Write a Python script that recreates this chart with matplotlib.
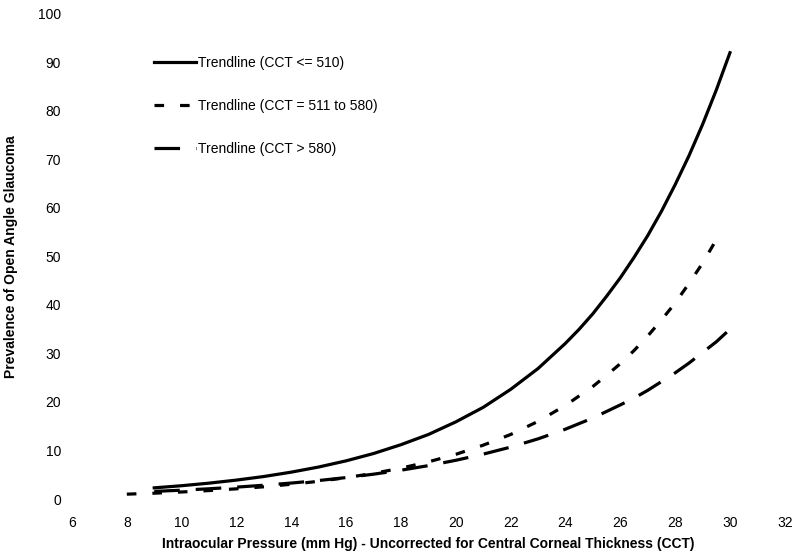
import matplotlib
matplotlib.use("Agg")
import matplotlib.pyplot as plt

plt.rcParams["font.family"] = ["Liberation Sans", "DejaVu Sans"]

# values
iop_low = [9, 10, 11, 12, 13, 14, 15, 16, 17, 18, 19, 20, 21, 22, 23, 24, 24.5, 25, 25.5, 26,
           26.5, 27, 27.5, 28, 28.5, 29, 29.5, 30]
prev_low = [2.3, 2.74, 3.27, 3.9, 4.64, 5.54, 6.6, 7.87, 9.38, 11.2, 13.3, 15.9, 18.9, 22.6,
            26.9, 32.1, 35.0, 38.2, 41.8, 45.6, 49.8, 54.3, 59.3, 64.8, 70.7, 77.2, 84.3, 92.0]

iop_mid = [8, 9, 10, 11, 12, 13, 14, 15, 16, 17, 18, 19, 20, 21, 22, 23, 24, 25, 25.5, 26,
           26.5, 27, 27.5, 28, 28.5, 29, 29.65]
prev_mid = [1.0, 1.2, 1.45, 1.74, 2.1, 2.52, 3.04, 3.65, 4.4, 5.29, 6.36, 7.66, 9.21, 11.1, 13.3,
            16.0, 19.3, 23.2, 25.5, 27.9, 30.6, 33.6, 36.9, 40.4, 44.4, 48.6, 54.9]

iop_high = [9, 10, 11, 12, 13, 14, 15, 16, 17, 18, 19, 20, 21, 22, 23, 24, 25, 26, 26.5, 27,
            27.5, 28, 28.5, 29, 29.5, 30]
prev_high = [1.57, 1.82, 2.11, 2.45, 2.84, 3.29, 3.81, 4.42, 5.12, 5.94, 6.88, 7.98, 9.25, 10.7,
             12.4, 14.4, 16.7, 19.4, 20.8, 22.4, 24.2, 26.0, 28.0, 30.2, 32.4, 35.0]

labels = ["Trendline (CCT <= 510)", "Trendline (CCT = 511 to 580)", "Trendline (CCT > 580)"]

fig = plt.figure(figsize=(8, 5.56), dpi=100)
ax = fig.add_axes([0.09, 0.1025, 0.891, 0.8725])

ax.plot(iop_low, prev_low, color="black", lw=2.3, label=labels[0])
ax.plot(iop_mid, prev_mid, color="black", lw=2.3, dashes=(3, 5), label=labels[1])
ax.plot(iop_high, prev_high, color="black", lw=2.3, dashes=(8, 5), label=labels[2])

ax.set_xlim(6, 32)
ax.set_ylim(0, 100)
ax.set_xticks(range(6, 33, 2))
ax.set_yticks(range(0, 101, 10))
for s in ax.spines.values():
    s.set_visible(False)
ax.tick_params(length=0, labelsize=10)
ax.tick_params(axis="x", pad=12)
ax.tick_params(axis="y", pad=8)

ax.set_xlabel("Intraocular Pressure (mm Hg) - Uncorrected for Central Corneal Thickness (CCT)",
              fontsize=10, fontweight="bold", labelpad=5)
ax.set_ylabel("Prevalence of Open Angle Glaucoma", fontsize=10, fontweight="bold", labelpad=14)

ax.legend(loc="upper left", bbox_to_anchor=(0.098, 0.94), frameon=False, fontsize=10,
          handlelength=3.0, handletextpad=0.15, labelspacing=2.1)

fig.savefig("out.png", dpi=100)
